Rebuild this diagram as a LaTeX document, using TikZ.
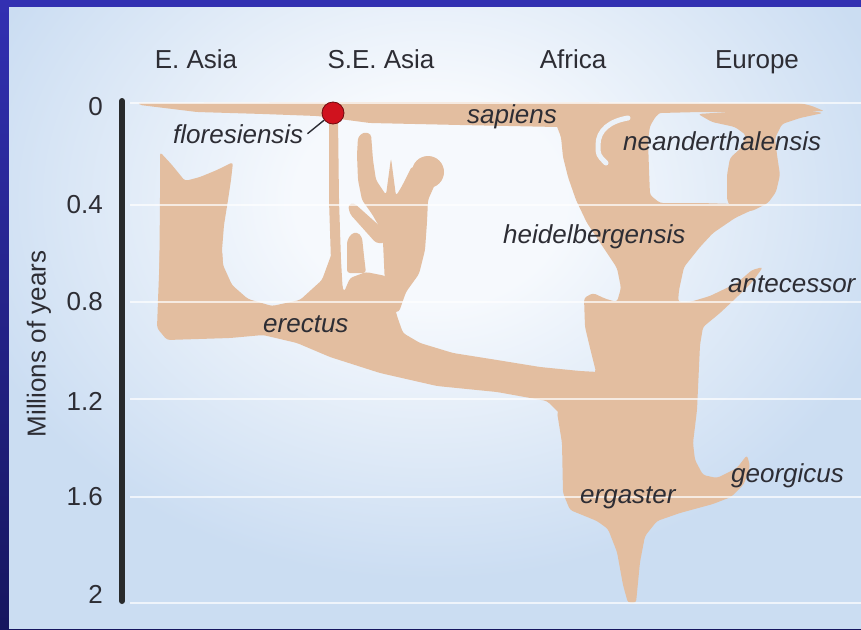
\documentclass[tikz,border=0pt]{standalone}
\usepackage{fontspec}
\setmainfont{Liberation Sans}
\definecolor{tanc}{RGB}{227,190,160}
\definecolor{txt}{RGB}{45,45,52}
\definecolor{panelbg}{RGB}{203,221,242}
\definecolor{glowc}{RGB}{246,249,253}
\definecolor{bordtop}{RGB}{50,48,178}
\definecolor{bordbot}{RGB}{22,22,95}
\definecolor{hookc}{RGB}{236,242,249}
\definecolor{dotred}{RGB}{208,18,30}
\definecolor{dotedge}{RGB}{110,10,15}
\definecolor{axisc}{RGB}{40,42,44}
\pgfdeclareradialshading{glowsh}{\pgfpoint{0bp}{0bp}}{color(0bp)=(glowc); color(7bp)=(glowc); color(25bp)=(panelbg); color(50bp)=(panelbg)}
\tikzset{
  hdr/.style={font=\fontsize{26}{30}\selectfont, text=txt, inner sep=0pt, anchor=base},
  tick/.style={font=\fontsize{26}{30}\selectfont, text=txt, inner sep=0pt, anchor=base east},
  spc/.style={font=\fontsize{26}{30}\selectfont\itshape, text=txt, inner sep=0pt, anchor=base west},
  tanshape/.style={fill=tanc, rounded corners=3pt},
  gline/.style={draw=white, line width=2.5pt, opacity=0.7},
  axisline/.style={draw=axisc, line width=6pt, line cap=round},
  hookline/.style={draw=hookc, line width=5pt, line cap=round},
  leader/.style={draw=txt, line width=1.4pt}
}
\begin{document}
\begin{tikzpicture}[x=1pt,y=-1pt]
\useasboundingbox (0,0) rectangle (861,629);
% border and panel
\shade[top color=bordtop, bottom color=bordbot] (0,0) rectangle (861,629);
\fill[panelbg] (9,7) rectangle (861,629);
\begin{scope}
  \clip (9,7) rectangle (861,629);
  \shade[shading=glowsh] (430,200) ellipse [x radius=480pt, y radius=380pt];
\end{scope}

% sapiens bar
\fill[fill=tanc, rounded corners=2pt] (138,103) -- (400,102) -- (800,103) -- (812,106) -- (824,111)
  -- (790,112) -- (700,112) -- (660,113) -- (620,118) -- (580,126) -- (557,127) -- (460,125)
  -- (370,123) -- (317,116) -- (263,114) -- (197,112) -- (140,105) -- cycle;
% Africa / Europe trunk
\fill[tanshape] (555,110) -- (556,124) -- (561,137) -- (563,157) -- (568,177) -- (576,200)
  -- (587,223) -- (603,247) -- (617,268) -- (621,288) -- (617,302) -- (606,299) -- (593,293)
  -- (584,298) -- (585,327) -- (591,352) -- (596,372) -- (580,390) -- (557,412) -- (562,443)
  -- (563,493) -- (570,510) -- (597,521) -- (608,529) -- (617,552) -- (623,585) -- (628,603)
  -- (636,603) -- (640,562) -- (645,536) -- (657,521) -- (680,513) -- (713,504) -- (731,497)
  -- (744,484) -- (750,466) -- (747,455) -- (737,468) -- (717,478) -- (703,475) -- (695,460)
  -- (693,443) -- (697,410) -- (700,345) -- (703,327) -- (720,313) -- (737,297) -- (753,281)
  -- (763,267) -- (752,270) -- (737,283) -- (710,296) -- (690,302) -- (678,302) -- (679,290)
  -- (684,267) -- (700,247) -- (713,233) -- (735,218) -- (752,210) -- (735,204) -- (700,203)
  -- (660,203) -- (650,195) -- (649,170) -- (648,140) -- (650,126) -- (656,116) -- (664,110) -- cycle;
% neanderthal right arm
\fill[tanshape] (698,114) -- (760,110) -- (800,109) -- (823,113) -- (800,118) -- (782,124)
  -- (775,138) -- (777,155) -- (780,175) -- (776,192) -- (768,203) -- (752,211) -- (733,212)
  -- (727,200) -- (727,175) -- (730,158) -- (741,148) -- (746,135) -- (735,127) -- (712,122) -- cycle;
% erectus band
\fill[tanshape] (160,250) -- (158,300) -- (157,328) -- (167,340) -- (230,338) -- (263,335)
  -- (297,343) -- (330,357) -- (380,373) -- (437,386) -- (497,392) -- (547,401) -- (562,416)
  -- (600,416) -- (598,372) -- (580,371) -- (540,367) -- (497,360) -- (453,353) -- (420,343)
  -- (403,333) -- (397,316) -- (392,295) -- (386,276) -- (366,272) -- (350,278) -- (344,292)
  -- (337,266) -- (333,250) -- (322,280) -- (300,300) -- (272,306) -- (248,299) -- (232,285)
  -- (223,265) -- (222,250) -- cycle;
% E. Asia arm
\fill[tanshape] (160,152) -- (172,165) -- (185,181) -- (200,177) -- (217,170) -- (233,162)
  -- (231,180) -- (228,200) -- (224,225) -- (222,250) -- (223,265) -- (200,300) -- (159,300)
  -- (160,200) -- cycle;
% floresiensis stem
\fill[tanshape] (329,118) -- (338,118) -- (339,200) -- (341,260) -- (343,295) -- (336,296)
  -- (331,262) -- (329,200) -- cycle;
% S.E. Asia structures
\fill[tanshape] (358,137) -- (364,132) -- (371,134) -- (373,160) -- (376,180) -- (386,195)
  -- (391,158) -- (396,196) -- (402,186) -- (412,166) -- (436,182) -- (428,200) -- (427,222)
  -- (425,250) -- (419,274) -- (406,292) -- (399,312) -- (390,312) -- (385,285) -- (383,242)
  -- (380,228) -- (372,214) -- (362,200) -- (358,180) -- (357,155) -- cycle;
\fill[tanc] (428,172) circle (16pt);
\fill[tanshape] (348,205) -- (354,203) -- (383,229) -- (385,243) -- (376,243) -- (350,214) -- cycle;
\fill[tanshape] (347,273) -- (347,241) -- (351,234) -- (357,232) -- (362,237) -- (364,256)
  -- (366,273) -- cycle;
% white hook in the African stem
\draw[hookline] (628,118) .. controls (610,121) and (598,130) .. (598,145) .. controls (598,155) .. (606,163);

% grid lines
\foreach \yy in {103,205,302,399,497,603} \draw[gline] (130,\yy) -- (861,\yy);
% axis
\draw[axisline] (122,101) -- (122,601);

% tick labels
\node[tick] (t0) at (103,115) {0};
\node[tick] (t1) at (103,213) {0.4};
\node[tick] (t2) at (103,310) {0.8};
\node[tick] (t3) at (103,410) {1.2};
\node[tick] (t4) at (103,505) {1.6};
\node[tick] (t5) at (103,603) {2};
\node[hdr, rotate=90, anchor=center] (ylab) at (39,344) {Millions of years};

% headers
\node[hdr] (hEA) at (196,68) {E. Asia};
\node[hdr] (hSEA) at (381,68) {S.E. Asia};
\node[hdr] (hAF) at (573,68) {Africa};
\node[hdr] (hEU) at (757,68) {Europe};

% species labels
\node[spc] (flo) at (173,143) {floresiensis};
\node[spc] (sap) at (467,123) {sapiens};
\node[spc] (nea) at (623,150) {neanderthalensis};
\node[spc] (hei) at (503,243) {heidelbergensis};
\node[spc] (ant) at (728,292) {antecessor};
\node[spc] (ere) at (263,332) {erectus};
\node[spc] (erg) at (580,503) {ergaster};
\node[spc] (geo) at (731,482) {georgicus};

% floresiensis dot and leader
\node[circle, fill=dotred, draw=dotedge, line width=0.8pt, minimum size=22pt, inner sep=0pt] (dot) at (333,113) {};
\draw[leader] (dot) -- ([xshift=4pt]flo.east);
\end{tikzpicture}
\end{document}
